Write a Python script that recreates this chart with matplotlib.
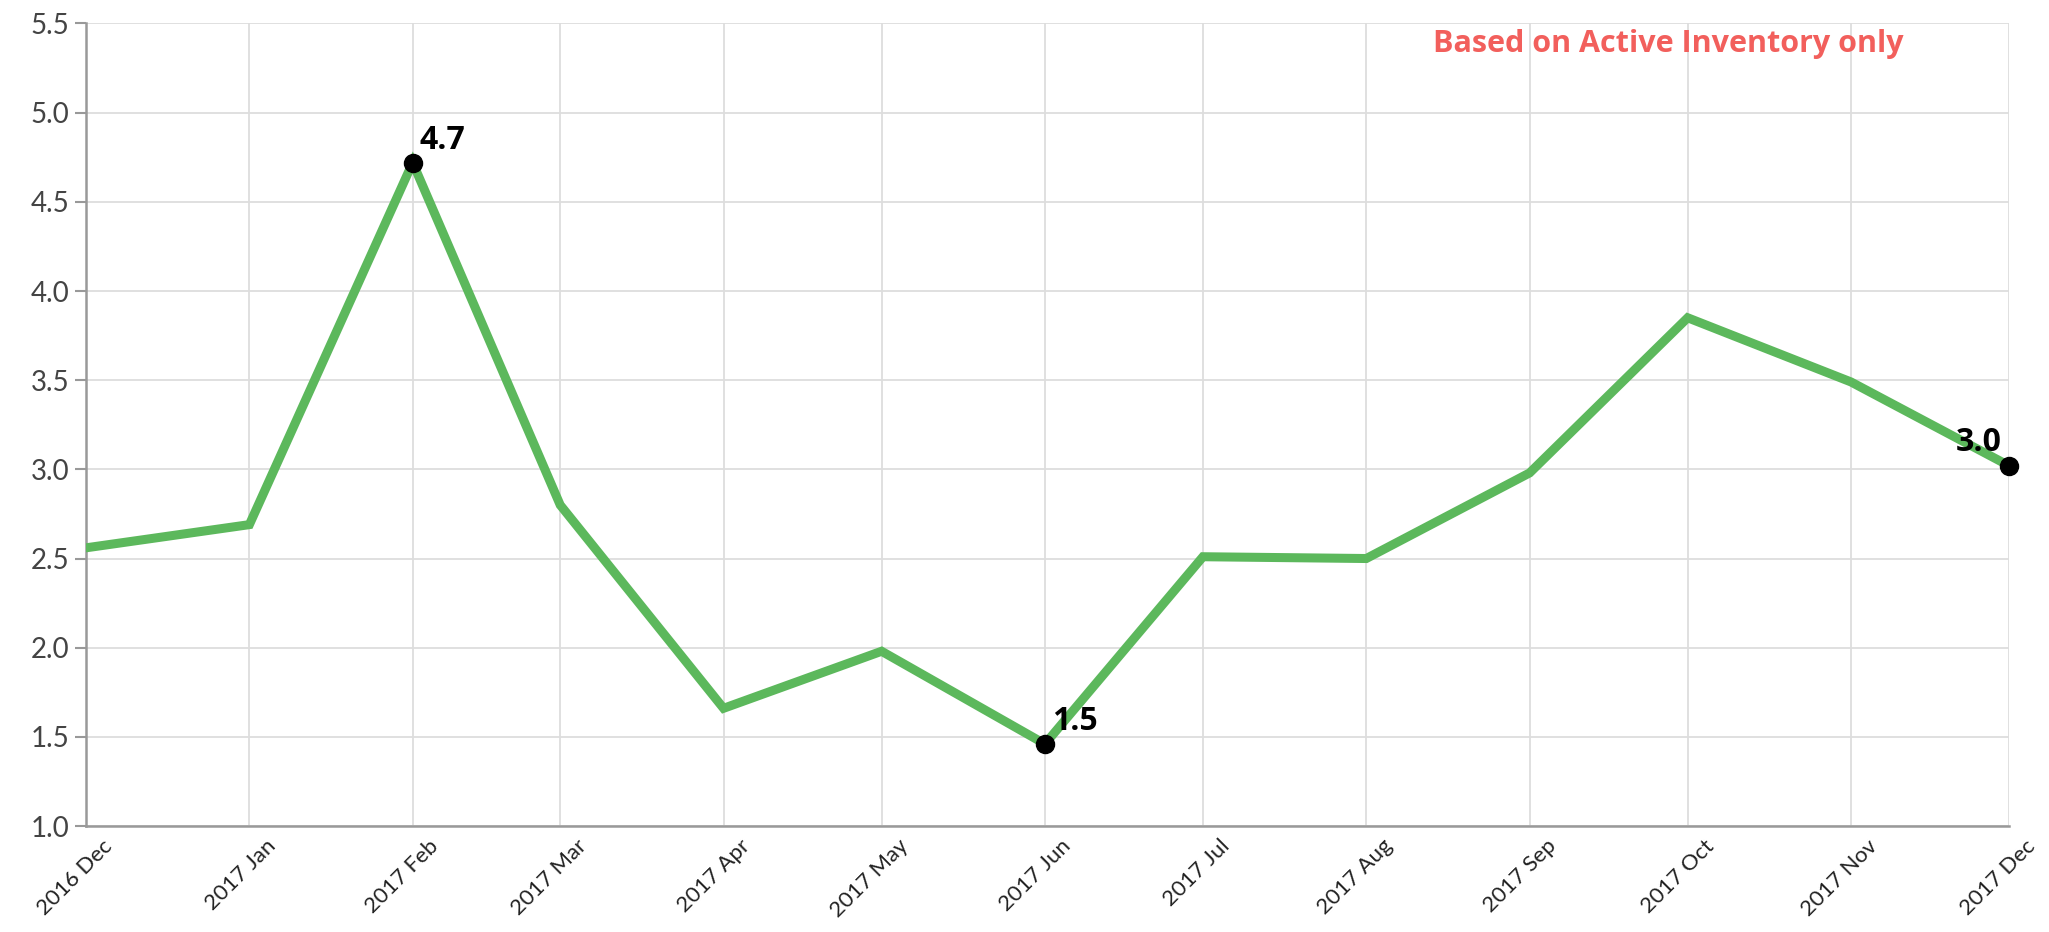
import pandas as pd
import matplotlib
matplotlib.use('Agg')
import matplotlib.pyplot as plt
import matplotlib.transforms as mtransforms

months = ['2016-12', '2017-01', '2017-02', '2017-03', '2017-04', '2017-05', '2017-06',
          '2017-07', '2017-08', '2017-09', '2017-10', '2017-11', '2017-12']
tick_labels = ['2016 Dec', '2017 Jan', '2017 Feb', '2017 Mar', '2017 Apr', '2017 May', '2017 Jun',
               '2017 Jul', '2017 Aug', '2017 Sep', '2017 Oct', '2017 Nov', '2017 Dec']
values = [2.56, 2.69, 4.72, 2.80, 1.66, 1.98, 1.46, 2.51, 2.50, 2.98, 3.85, 3.49, 3.02]
# points that get a dot + label
marked = ['2017-02', '2017-06', '2017-12']
note = 'Based on Active Inventory only'

plt.rcParams['font.family'] = ['Lato', 'DejaVu Sans']

df = pd.DataFrame({'date': pd.to_datetime(months), 'value': values, 'label': tick_labels})

fig = plt.figure(figsize=(20.49, 9.32), dpi=100)
ax = fig.add_axes([0.042, 0.1137, 0.9385, 0.8611])

ax.plot(df['date'], df['value'], color='#5cb85c', lw=6.5, solid_joinstyle='miter', zorder=3)

pts = df[df['date'].isin(pd.to_datetime(marked))]
ax.plot(pts['date'], pts['value'], 'o', color='black', ms=13, zorder=4, clip_on=False)
for i, (d, v) in enumerate(zip(pts['date'], pts['value'])):
    if i == len(pts) - 1:
        ax.annotate(f'{v:.1f}', (d, v), xytext=(-5, 5), textcoords='offset points',
                    ha='right', va='bottom', fontsize=23, fontweight='bold',
                    family=['Open Sans', 'DejaVu Sans'], zorder=5)
    else:
        ax.annotate(f'{v:.1f}', (d, v), xytext=(5, 4), textcoords='offset points',
                    ha='left', va='bottom', fontsize=23, fontweight='bold',
                    family=['Open Sans', 'DejaVu Sans'], zorder=5)

ax.set_ylim(1.0, 5.5)
ax.set_xlim(df['date'].iloc[0], df['date'].iloc[-1])
ax.set_yticks([1.0, 1.5, 2.0, 2.5, 3.0, 3.5, 4.0, 4.5, 5.0, 5.5])
ax.yaxis.set_major_formatter(matplotlib.ticker.FormatStrFormatter('%.1f'))
ax.set_xticks(df['date'])
ax.set_xticklabels([])

# rotated month labels, nudged right of the gridline like the original
shift = mtransforms.ScaledTranslation(0.16, -0.10, fig.dpi_scale_trans)
for d, lab in zip(df['date'], df['label']):
    ax.text(d, 0, lab, transform=ax.get_xaxis_transform() + shift, rotation=45,
            rotation_mode='anchor', ha='right', va='top', fontsize=16, color='#222222',
            clip_on=False)

ax.grid(True, color='#dddddd', lw=1.3, zorder=0)
ax.set_axisbelow(True)
for s in ['top', 'right']:
    ax.spines[s].set_visible(False)
for s in ['left', 'bottom']:
    ax.spines[s].set_color('#999999')
    ax.spines[s].set_linewidth(1.8)

ax.tick_params(axis='y', length=8, width=1.5, color='#999999', labelsize=20,
               labelcolor='#444444', pad=4)
ax.tick_params(axis='x', length=0)

ax.text(0.823, 0.975, note, transform=ax.transAxes, ha='center', va='center',
        fontsize=22, fontweight='bold', color='#f25f5c',
        family=['Open Sans', 'DejaVu Sans'])

fig.savefig('out.png', dpi=100, facecolor='white')
